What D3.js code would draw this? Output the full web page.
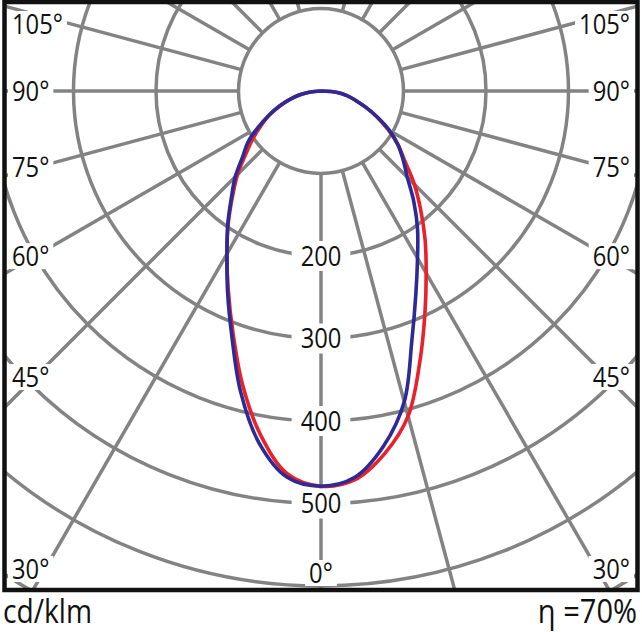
<!DOCTYPE html>
<html>
<head>
<meta charset="utf-8">
<script src="https://cdn.jsdelivr.net/npm/d3@7"></script>
<style>
  body { margin: 0; background: #fff; }
  text { font-family: "Open Sans", sans-serif; fill: #111; }
</style>
</head>
<body>
<div id="chart"></div>
<script>
// gamma angles, degrees from nadir
var gammas = [0, 5, 10, 15, 20, 25, 30, 35, 40, 45, 50, 55, 60, 65, 70, 75, 80, 85, 90];
// cd/klm, C-plane halves
var redLeft   = [479, 466, 423, 368, 312, 266, 228, 196, 167, 143, 119, 101, 84, 69, 53, 39, 26, 13, 0];
var redRight  = [479, 473, 446, 408, 350, 298, 255, 220, 188, 160, 133, 114, 94, 75, 58, 43, 32, 20, 0];
var blueLeft  = [479, 470, 433, 377, 316, 268, 228, 197, 169, 147, 124, 108, 88, 70, 54, 39, 26, 13, 0];
var blueRight = [479, 470, 437, 390, 322, 272, 234, 204, 175, 148, 130, 114, 96, 76, 58, 43, 32, 20, 0];

var ringValues = [100, 200, 300, 400, 500, 600, 700];
var ringLabels = [200, 300, 400, 500];
var spokesLeft = [0, 30, 45, 60, 75, 90, 105, 120, 135, 150, 165];
var spokesRight = [15, 30, 45, 60, 75, 90, 105, 120, 135, 150, 165];
var angleLabels = [30, 45, 60, 75, 90, 105];
var unitText = "cd/klm";
var effText = "η =70%";

var width = 642, height = 632;
var cx = 321, cy = 91;
var frame = { x: 4.5, y: 2, w: 633, h: 588 };
var grey = "#838383";
var sx = 0.88; // narrow the type a bit, reference uses a condensed face

var r = d3.scaleLinear().domain([0, 100]).range([0, 82.5]);
var rad = function (deg) { return deg * Math.PI / 180; };

var svg = d3.select("#chart").append("svg")
    .attr("width", width)
    .attr("height", height);

svg.append("defs").append("clipPath")
    .attr("id", "frame-clip")
    .append("rect")
    .attr("x", frame.x)
    .attr("y", frame.y)
    .attr("width", frame.w)
    .attr("height", frame.h);

var grid = svg.append("g")
    .attr("clip-path", "url(#frame-clip)")
    .append("g")
    .attr("transform", "translate(" + cx + "," + cy + ")");

// rings
grid.selectAll("circle.ring")
    .data(ringValues)
    .enter().append("circle")
    .attr("class", "ring")
    .attr("r", function (d) { return r(d); })
    .attr("fill", "none")
    .attr("stroke", grey)
    .attr("stroke-width", 3.5);

// spokes, starting on the 100 ring
var spokes = spokesLeft.map(function (g) { return Math.PI + rad(g); })
    .concat(spokesRight.map(function (g) { return Math.PI - rad(g); }));

grid.selectAll("line.spoke")
    .data(spokes)
    .enter().append("line")
    .attr("class", "spoke")
    .attr("x1", function (a) { return r(100) * Math.sin(a); })
    .attr("y1", function (a) { return -r(100) * Math.cos(a); })
    .attr("x2", function (a) { return r(1000) * Math.sin(a); })
    .attr("y2", function (a) { return -r(1000) * Math.cos(a); })
    .attr("stroke", grey)
    .attr("stroke-width", 3.5);

// text label with a white knock-out behind it
function label(x, y, str, anchor, size, padX, halfH) {
    var g = svg.append("g")
        .attr("transform", "translate(" + x + "," + y + ") scale(" + sx + ",1)");
    var t = g.append("text")
        .attr("text-anchor", anchor)
        .attr("dy", "0.36em")
        .style("font-size", size + "px")
        .text(str);
    if (padX != null) {
        var b = t.node().getBBox();
        g.insert("rect", "text")
            .attr("x", b.x - padX / sx)
            .attr("y", -halfH)
            .attr("width", b.width + 2 * padX / sx)
            .attr("height", 2 * halfH)
            .attr("fill", "#fff");
    }
    return g;
}

// ring values along the 0 degree spoke
ringLabels.forEach(function (v) {
    label(cx, cy + r(v), String(v), "middle", 27, 9, 15);
});

// angle labels at the ends of the spokes
var side = 286;
angleLabels.forEach(function (g) {
    var y = cy + side * Math.cos(rad(g)) / Math.sin(rad(g));
    y = Math.max(24, Math.min(569, y));
    label(12, y, g + "°", "start", 27, 4, 13);
    label(630, y, g + "°", "end", 27, 4, 13);
});
label(cx, 573, "0°", "middle", 27, 4, 13);

// intensity curves
var line = d3.lineRadial()
    .angle(function (d) { return d.a; })
    .radius(function (d) { return r(d.v); })
    .curve(d3.curveCatmullRom.alpha(0.5));

function pts(left, right) {
    var out = [];
    for (var i = gammas.length - 1; i >= 0; i--) out.push({ a: Math.PI + rad(gammas[i]), v: left[i] });
    for (var j = 1; j < gammas.length; j++) out.push({ a: Math.PI - rad(gammas[j]), v: right[j] });
    return out;
}

var curves = svg.append("g").attr("transform", "translate(" + cx + "," + cy + ")");
curves.append("path")
    .attr("d", line(pts(redLeft, redRight)))
    .attr("fill", "none")
    .attr("stroke", "#e8212b")
    .attr("stroke-width", 3.6)
    .attr("stroke-linejoin", "round");
curves.append("path")
    .attr("d", line(pts(blueLeft, blueRight)))
    .attr("fill", "none")
    .attr("stroke", "#2b2a96")
    .attr("stroke-width", 3.6)
    .attr("stroke-linejoin", "round");

// frame
svg.append("rect")
    .attr("x", frame.x)
    .attr("y", frame.y)
    .attr("width", frame.w)
    .attr("height", frame.h)
    .attr("fill", "none")
    .attr("stroke", "#111")
    .attr("stroke-width", 4.5);

// footer
label(3, 611, unitText, "start", 32);
label(637, 611, effText, "end", 33);
</script>
</body>
</html>
